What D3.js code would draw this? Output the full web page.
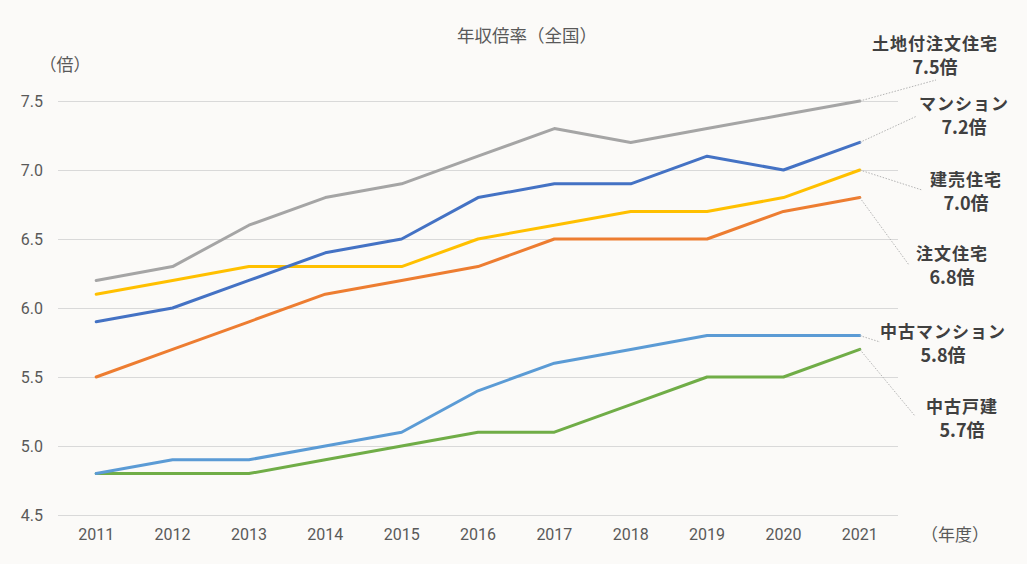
<!DOCTYPE html>
<html><head><meta charset="utf-8">
<script src="https://cdn.jsdelivr.net/npm/d3@7"></script>
<style>
html,body{margin:0;padding:0;background:#FBFAF8;}
svg{display:block;font-family:"Noto Sans CJK JP","Noto Sans",sans-serif;}
</style></head>
<body><svg id="c" width="1027" height="564"></svg>
<script>
const years = ["2011","2012","2013","2014","2015","2016","2017","2018","2019","2020","2021"];
const yTicks = [4.5,5.0,5.5,6.0,6.5,7.0,7.5];
const seriesNames = ["土地付注文住宅","マンション","建売住宅","注文住宅","中古マンション","中古戸建"];
const seriesColors = ["#A5A5A5","#4472C4","#FFC000","#ED7D31","#5B9BD5","#70AD47"];
const landOrder = [6.2,6.3,6.6,6.8,6.9,7.1,7.3,7.2,7.3,7.4,7.5];
const mansion = [5.9,6.0,6.2,6.4,6.5,6.8,6.9,6.9,7.1,7.0,7.2];
const builtForSale = [6.1,6.2,6.3,6.3,6.3,6.5,6.6,6.7,6.7,6.8,7.0];
const customHome = [5.5,5.7,5.9,6.1,6.2,6.3,6.5,6.5,6.5,6.7,6.8];
const usedMansion = [4.8,4.9,4.9,5.0,5.1,5.4,5.6,5.7,5.8,5.8,5.8];
const usedHouse = [4.8,4.8,4.8,4.9,5.0,5.1,5.1,5.3,5.5,5.5,5.7];
const seriesValues = [landOrder,mansion,builtForSale,customHome,usedMansion,usedHouse];
const labelValues = ["7.5倍","7.2倍","7.0倍","6.8倍","5.8倍","5.7倍"];

const svg = d3.select("#c");
const mLeft = 58, mRight = 898, mTop = 101, mBottom = 515;
const x = d3.scaleBand().domain(years).range([mLeft,mRight]);
const y = d3.scaleLinear().domain([4.5,7.5]).range([mBottom,mTop]);
const cx = d => x(d) + x.bandwidth()/2;

// gridlines
const yAxis = d3.axisLeft(y).tickValues(yTicks).tickFormat(d3.format(".1f")).tickSize(-(mRight-mLeft)).tickPadding(15);
const gy = svg.append("g").attr("transform",`translate(${mLeft},0)`).call(yAxis);
gy.select(".domain").remove();
gy.selectAll(".tick line").attr("stroke","#D9D9D9").attr("stroke-width",1);
gy.selectAll(".tick text").attr("fill","#595959").attr("font-size",16).attr("font-family","Roboto, 'Liberation Sans', sans-serif");

const xAxis = d3.axisBottom(x).tickSize(0).tickPadding(14);
const gx = svg.append("g").attr("transform",`translate(0,${mBottom})`).call(xAxis);
gx.select(".domain").remove();
gx.selectAll(".tick text").attr("fill","#595959").attr("font-size",16).attr("font-family","Roboto, 'Liberation Sans', sans-serif");

// title & units
svg.append("text").attr("x",527).attr("y",42).attr("text-anchor","middle").attr("fill","#595959").attr("font-size",17.5).text("年収倍率（全国）");
svg.append("text").attr("x",65).attr("y",71).attr("text-anchor","middle").attr("fill","#595959").attr("font-size",17).text("（倍）");
svg.append("text").attr("x",955).attr("y",541).attr("text-anchor","middle").attr("fill","#595959").attr("font-size",17).text("（年度）");

// lines
const line = d3.line().x((d,i)=>cx(years[i])).y(d=>y(d));
const order = [5,4,3,2,1,0];
order.forEach(k=>{
  svg.append("path").datum(seriesValues[k]).attr("d",line).attr("fill","none")
    .attr("stroke",seriesColors[k]).attr("stroke-width",3).attr("stroke-linejoin","round").attr("stroke-linecap","round");
});

// data labels with leader lines
const labelPos = [
  {lx:935, ly:50, ex:936, ey:80},
  {lx:964, ly:110, ex:917, ey:116},
  {lx:966, ly:186, ex:922, ey:190},
  {lx:952, ly:260, ex:909, ey:265},
  {lx:943, ly:338, ex:880, ey:342},
  {lx:962, ly:413, ex:915, ey:416}
];
seriesNames.forEach((name,k)=>{
  const last = seriesValues[k][seriesValues[k].length-1];
  const px = cx(years[years.length-1]), py = y(last);
  const p = labelPos[k];
  svg.append("path").attr("d",`M${px},${py}L${p.ex},${p.ey}`).attr("fill","none")
    .attr("stroke","#B4B4B4").attr("stroke-width",1).attr("stroke-dasharray","1.5,1.5");
  const t = svg.append("text").attr("text-anchor","middle").attr("fill","#404040").attr("font-size",17).attr("font-weight","bold");
  t.append("tspan").attr("x",p.lx).attr("y",p.ly).attr("letter-spacing",1).text(name);
  t.append("tspan").attr("x",p.lx).attr("y",p.ly+24).attr("font-size",18).text(labelValues[k]);
});
</script></body></html>
